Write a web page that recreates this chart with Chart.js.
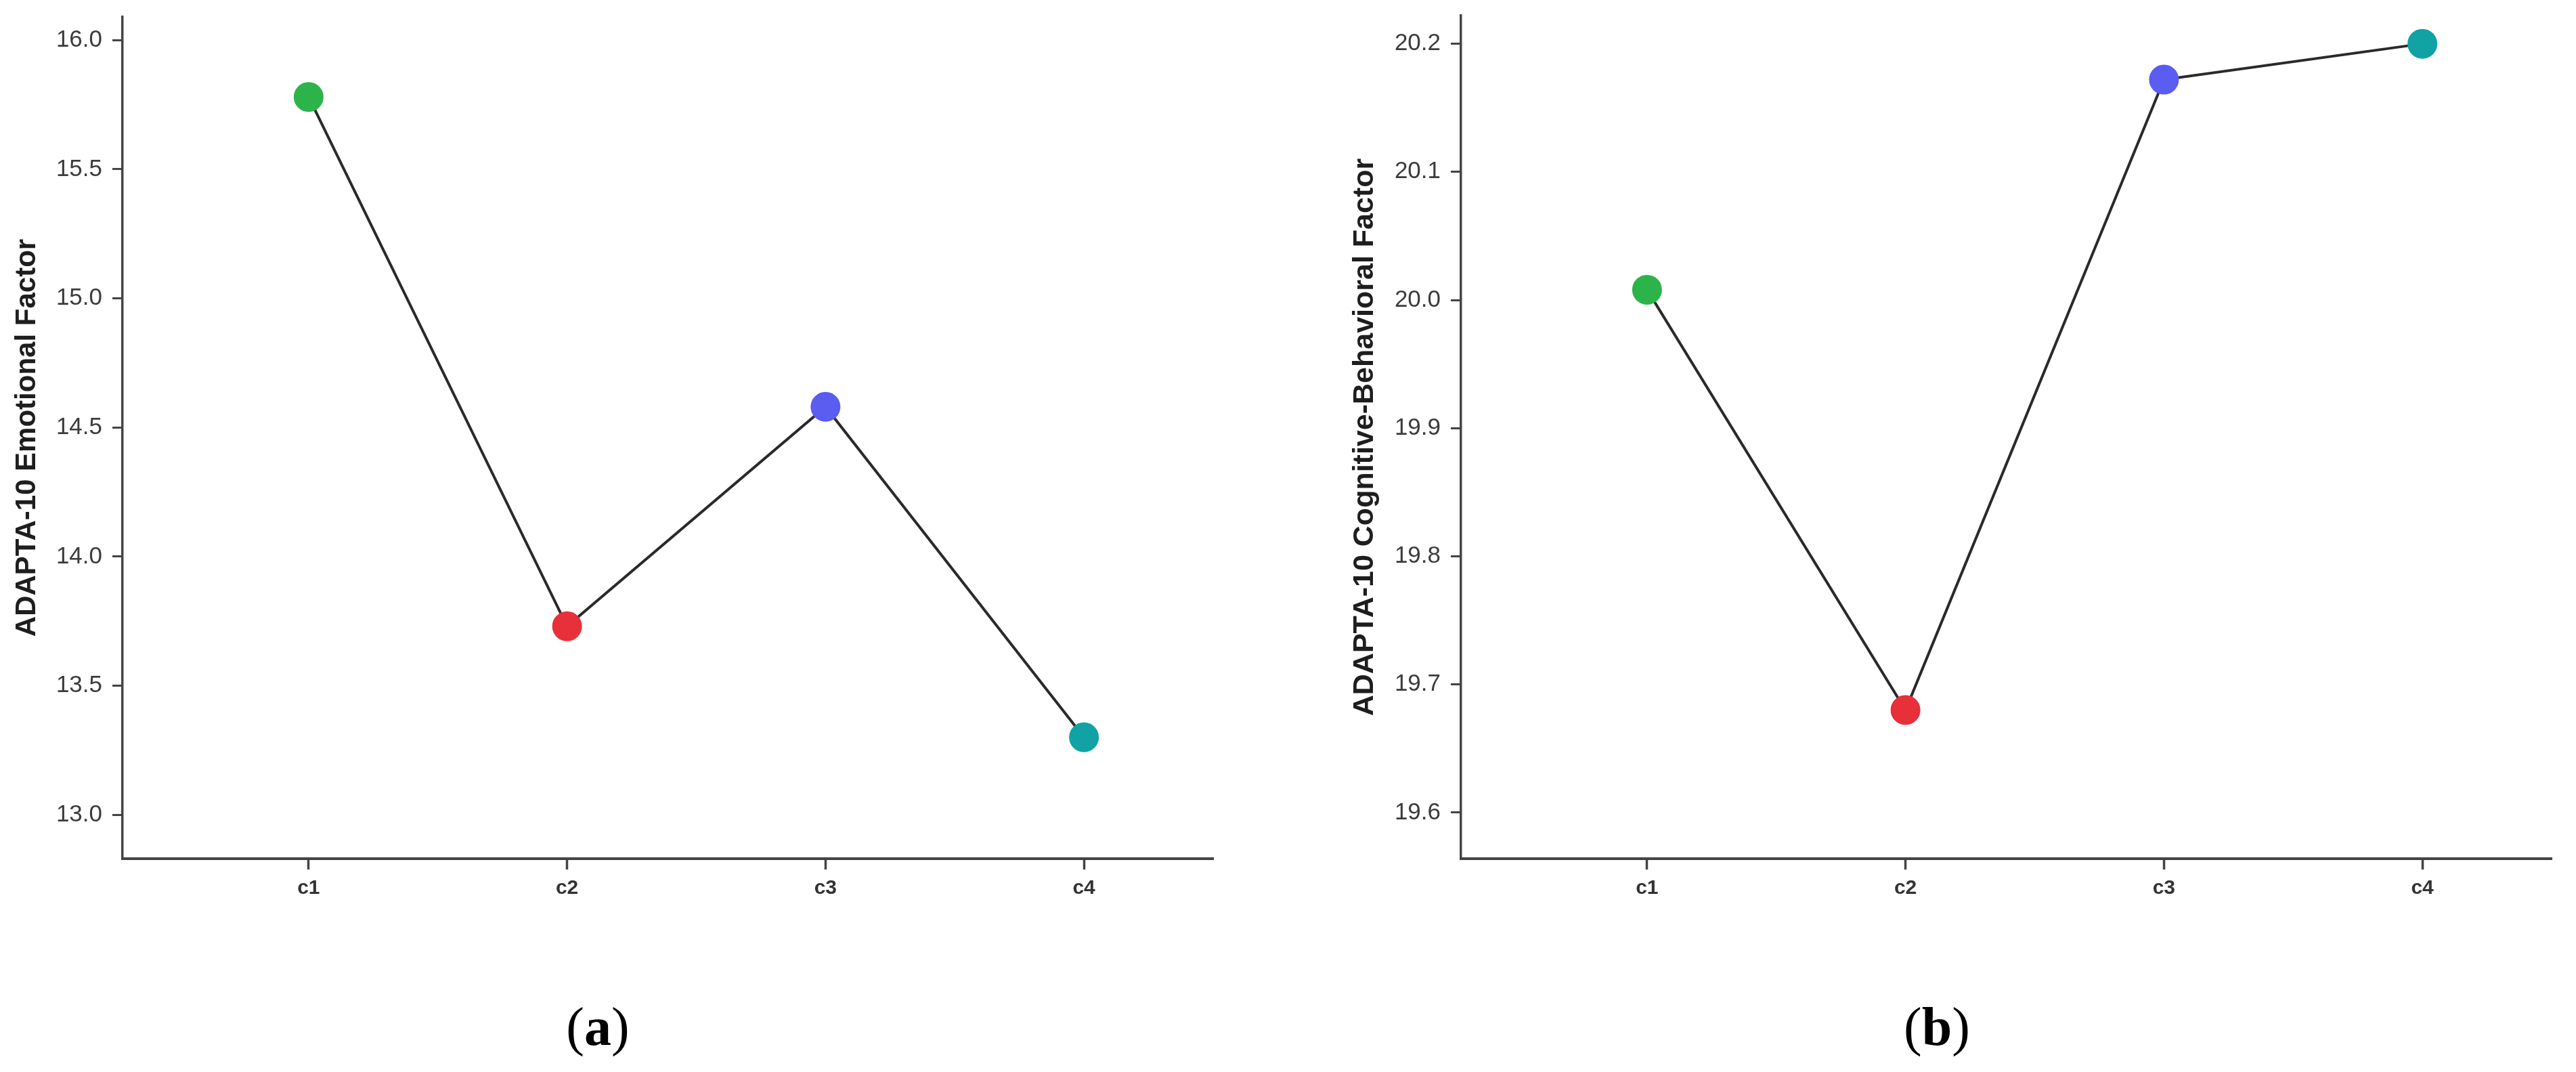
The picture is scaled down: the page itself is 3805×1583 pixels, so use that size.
<!DOCTYPE html>
<html>
<head>
<meta charset="utf-8">
<script src="https://cdn.jsdelivr.net/npm/chart.js@4.4.1/dist/chart.umd.min.js"></script>
<style>
  body { margin: 0; background: #fff; width: 3805px; height: 1583px; position: relative; overflow: hidden; }
  canvas { position: absolute; top: 0; }
  .cap { position: absolute; font-family: "Liberation Serif", "Times New Roman", serif; font-size: 80px; color: #000; transform: translate(-50%, -50%); top: 1516px; }
  .cap b { font-weight: bold; }
</style>
</head>
<body>
<canvas id="emo" width="1900" height="1400" style="left:0"></canvas>
<canvas id="cog" width="1855" height="1400" style="left:1950px"></canvas>
<div class="cap" style="left:883px">(<b>a</b>)</div>
<div class="cap" style="left:2861px">(<b>b</b>)</div>

<script>
// groups
const clusters = ['c1', 'c2', 'c3', 'c4'];
const clusterColors = ['#2cb44a', '#e8303a', '#5a5cf2', '#10a2a4'];

// ADAPTA-10 means per cluster
const emotional = [15.78, 13.73, 14.58, 13.30];
const cognitive = [20.008, 19.68, 20.172, 20.2];

// y tick values
const emoTicks = [13.0, 13.5, 14.0, 14.5, 15.0, 15.5, 16.0];
const cogTicks = [19.6, 19.7, 19.8, 19.9, 20.0, 20.1, 20.2];

const axisColor = '#444';

function makeChart(id, values, ticks, yMin, yMax, title, opts) {
    const ctx = document.getElementById(id).getContext('2d');
    return new Chart(ctx, {
        type: 'line',
        data: {
            datasets: [{
                data: values.map((v, i) => ({ x: i, y: v })),
                borderColor: '#2a2a2a',
                borderWidth: 4,
                tension: 0,
                pointRadius: 21,
                pointBorderWidth: 2,
                pointBackgroundColor: clusterColors,
                pointBorderColor: clusterColors,
                fill: false
            }]
        },
        options: {
            responsive: false,
            animation: false,
            devicePixelRatio: 1,
            layout: { padding: { top: opts.top, right: opts.right, left: 0, bottom: 0 } },
            plugins: { legend: { display: false }, tooltip: { enabled: false } },
            scales: {
                x: {
                    type: 'linear',
                    min: -0.72,
                    max: 3.5,
                    afterBuildTicks: s => { s.ticks = clusters.map((c, i) => ({ value: i })); },
                    afterFit: s => { s.height = 132; s.paddingLeft = 0; s.paddingRight = 0; },
                    ticks: {
                        callback: (v) => clusters[v],
                        color: '#333',
                        padding: 10,
                        font: { family: 'Liberation Sans, Arial, sans-serif', size: 30, weight: 'bold' }
                    },
                    grid: { drawOnChartArea: false, drawTicks: true, tickLength: 16, tickColor: axisColor, tickWidth: 3.5 },
                    border: { display: true, color: axisColor, width: 4 }
                },
                y: {
                    min: yMin,
                    max: yMax,
                    afterBuildTicks: s => { s.ticks = ticks.map(v => ({ value: v })); },
                    afterFit: s => { s.width = opts.yWidth; s.paddingTop = 0; s.paddingBottom = 0; },
                    ticks: {
                        callback: v => v.toFixed(1),
                        color: '#3c3c3c',
                        padding: 15,
                        font: { family: 'Liberation Sans, Arial, sans-serif', size: 35 }
                    },
                    grid: { drawOnChartArea: false, drawTicks: true, tickLength: 15, tickColor: axisColor, tickWidth: 3 },
                    border: { display: true, color: axisColor, width: 3.5 },
                    title: {
                        display: true,
                        text: title,
                        color: '#1e1e1e',
                        padding: { top: opts.titlePad, bottom: 0 },
                        font: { family: 'Liberation Sans, Arial, sans-serif', size: opts.titleSize, weight: 'bold' }
                    }
                }
            }
        }
    });
}

makeChart('emo', emotional, emoTicks, 12.83, 16.09, 'ADAPTA-10 Emotional Factor',
    { top: 25, right: 108, yWidth: 181, titlePad: 15, titleSize: 42 });
makeChart('cog', cognitive, cogTicks, 19.564, 20.222, 'ADAPTA-10 Cognitive-Behavioral Factor',
    { top: 18, right: 36, yWidth: 208, titlePad: 40, titleSize: 43 });
</script>
</body>
</html>
